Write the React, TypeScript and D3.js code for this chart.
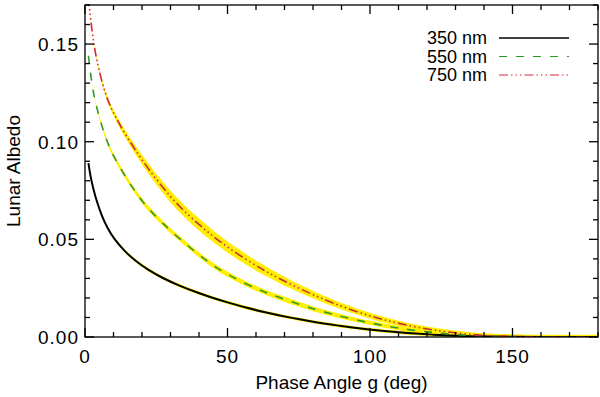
import React, { useEffect, useRef } from 'react';
import * as d3 from 'd3';

// phase angle samples (deg)
const phaseAngles = [1.2, 2, 3, 4, 6, 8, 10, 14, 18, 22, 27, 33, 40, 45, 50, 57, 63, 68, 75, 81, 87, 93, 100, 105, 110, 116, 122, 128, 135, 142, 150, 160, 170, 180];

const albedo350 = [0.089, 0.0815, 0.0755, 0.070, 0.0615, 0.0555, 0.0505, 0.0437, 0.0386, 0.0345, 0.0303, 0.0263, 0.0224, 0.0199, 0.0177, 0.0148, 0.0127, 0.0111, 0.0091, 0.0075, 0.0062, 0.0050, 0.0038, 0.0031, 0.0024, 0.0017, 0.0012, 0.0008, 0.0004, 0.0002, 0.0001, 0.00003, 0, 0];
const albedo550 = [0.144, 0.134, 0.1245, 0.118, 0.1075, 0.099, 0.0925, 0.0825, 0.0735, 0.066, 0.0585, 0.0505, 0.042, 0.0365, 0.032, 0.0268, 0.023, 0.0203, 0.0168, 0.014, 0.0116, 0.0094, 0.0072, 0.0058, 0.0045, 0.0033, 0.0023, 0.0015, 0.0008, 0.0004, 0.0001, 0.00002, 0, 0];
const albedo750 = [0.174, 0.162, 0.151, 0.1425, 0.130, 0.121, 0.1145, 0.104, 0.095, 0.0865, 0.077, 0.0668, 0.0575, 0.0515, 0.046, 0.0392, 0.034, 0.030, 0.025, 0.021, 0.0174, 0.0141, 0.0108, 0.0088, 0.007, 0.0051, 0.0036, 0.0024, 0.0013, 0.0006, 0.0002, 0.00005, 0.00001, 0];

// half-width of the yellow uncertainty band
const spread350 = [0, 0, 0, 0, 0.0002, 0.0003, 0.0004, 0.0005, 0.0005, 0.0005, 0.0005, 0.0005, 0.0005, 0.0005, 0.0005, 0.0005, 0.0005, 0.0005, 0.0005, 0.0005, 0.0005, 0.0005, 0.0005, 0.0005, 0.0005, 0.0005, 0.0005, 0.0005, 0.0005, 0.0005, 0.0005, 0.0005, 0.0005, 0.0005];
const spread550 = [0, 0, 0, 0.0003, 0.0005, 0.0007, 0.0008, 0.0009, 0.001, 0.001, 0.001, 0.001, 0.001, 0.001, 0.001, 0.001, 0.001, 0.001, 0.001, 0.0009, 0.0009, 0.0008, 0.0008, 0.0008, 0.0007, 0.0007, 0.0007, 0.0007, 0.0007, 0.0007, 0.0007, 0.0007, 0.0007, 0.0007];
const spread750 = [0, 0, 0, 0.0003, 0.0006, 0.0009, 0.0012, 0.0016, 0.002, 0.0023, 0.0026, 0.0028, 0.0028, 0.0027, 0.0026, 0.0024, 0.0022, 0.002, 0.0018, 0.0016, 0.0014, 0.0013, 0.0012, 0.0011, 0.001, 0.0009, 0.0009, 0.0008, 0.0008, 0.0008, 0.0008, 0.0008, 0.0008, 0.0008];

const seriesLabels = ['350 nm', '550 nm', '750 nm'];
const xTicks = [0, 50, 100, 150];
const yTicks = [0, 0.05, 0.1, 0.15];

const App = () => {
    const svgRef = useRef<SVGSVGElement>(null);

    useEffect(() => {
        const width = 600;
        const height = 397;
        const margin = { top: 5, right: 2, bottom: 60, left: 85 };
        const font = 'Liberation Sans, Arial, Helvetica, sans-serif';

        const svg = d3.select(svgRef.current)
            .attr('width', width)
            .attr('height', height);
        svg.selectAll('*').remove();

        const x = d3.scaleLinear().domain([0, 180]).range([margin.left, width - margin.right]);
        const y = d3.scaleLinear().domain([0, 0.17]).range([height - margin.bottom, margin.top]);

        svg.append('rect').attr('width', width).attr('height', height).attr('fill', '#fff');

        svg.append('clipPath').attr('id', 'plotclip')
            .append('rect')
            .attr('x', x(0)).attr('y', y(0.17))
            .attr('width', x(180) - x(0)).attr('height', y(0) - y(0.17));

        const plot = svg.append('g').attr('clip-path', 'url(#plotclip)');

        const series = [
            { values: albedo350, spread: spread350, color: '#000', dash: null, w: 2 },
            { values: albedo550, spread: spread550, color: '#2e9a2e', dash: '8,9', w: 1.6 },
            { values: albedo750, spread: spread750, color: '#d02a3a', dash: '9,3,1.5,3,1.5,3,1.5,3', w: 1.6 },
        ];

        const band = d3.area<number>()
            .x((_, i) => x(phaseAngles[i]))
            .curve(d3.curveBasis);

        series.forEach(s => {
            plot.append('path')
                .datum(s.values)
                .attr('fill', '#ffee00')
                .attr('d', band
                    .y0((d, i) => y(d - s.spread[i] - 0.0003))
                    .y1((d, i) => y(d + s.spread[i] + 0.0003)));
        });

        const line = d3.line<number>()
            .x((_, i) => x(phaseAngles[i]))
            .y(d => y(d))
            .curve(d3.curveBasis);

        series.forEach(s => {
            plot.append('path')
                .datum(s.values)
                .attr('fill', 'none')
                .attr('stroke', s.color)
                .attr('stroke-width', s.w)
                .attr('stroke-dasharray', s.dash)
                .attr('d', line);
        });

        // frame with ticks on all sides
        const axes = svg.append('g').attr('stroke', '#000').attr('stroke-width', 1.3);
        const x0 = x(0), x1 = x(180), y0 = y(0), y1 = y(0.17);
        axes.append('rect')
            .attr('x', x0).attr('y', y1)
            .attr('width', x1 - x0).attr('height', y0 - y1)
            .attr('fill', 'none');

        d3.range(0, 181, 10).forEach(t => {
            const len = t % 50 === 0 ? 9 : 5;
            axes.append('line').attr('x1', x(t)).attr('x2', x(t)).attr('y1', y0).attr('y2', y0 - len);
            axes.append('line').attr('x1', x(t)).attr('x2', x(t)).attr('y1', y1).attr('y2', y1 + len);
        });
        d3.range(0, 18).forEach(k => {
            const t = k * 0.01;
            const len = k % 5 === 0 ? 9 : 5;
            axes.append('line').attr('x1', x0).attr('x2', x0 + len).attr('y1', y(t)).attr('y2', y(t));
            axes.append('line').attr('x1', x1).attr('x2', x1 - len).attr('y1', y(t)).attr('y2', y(t));
        });

        svg.selectAll('.xtick')
            .data(xTicks)
            .enter()
            .append('text')
            .attr('x', d => x(d))
            .attr('y', y0 + 26)
            .attr('text-anchor', 'middle')
            .style('font-family', font)
            .style('font-size', '19px')
            .style('letter-spacing', '1px')
            .text(d => d3.format('d')(d));

        svg.selectAll('.ytick')
            .data(yTicks)
            .enter()
            .append('text')
            .attr('x', x0 - 6)
            .attr('y', d => y(d) + 7)
            .attr('text-anchor', 'end')
            .style('font-family', font)
            .style('font-size', '19px')
            .style('letter-spacing', '1px')
            .text(d => d3.format('.2f')(d));

        svg.append('text')
            .attr('x', (x0 + x1) / 2)
            .attr('y', 389)
            .attr('text-anchor', 'middle')
            .style('font-family', font)
            .style('font-size', '19px')
            .text('Phase Angle g (deg)');

        svg.append('text')
            .attr('transform', `translate(20,${(y0 + y1) / 2}) rotate(-90)`)
            .attr('text-anchor', 'middle')
            .style('font-family', font)
            .style('font-size', '19px')
            .text('Lunar Albedo');

        // legend
        const legend = svg.append('g');
        series.forEach((s, i) => {
            const ly = 38 + i * 18.5;
            legend.append('text')
                .attr('x', 487)
                .attr('y', ly + 6)
                .attr('text-anchor', 'end')
                .style('font-family', font)
                .style('font-size', '18px')
                .text(seriesLabels[i]);
            legend.append('line')
                .attr('x1', 499).attr('x2', 569)
                .attr('y1', ly).attr('y2', ly)
                .attr('stroke', s.color)
                .attr('stroke-width', s.w - 0.4)
                .attr('stroke-dasharray', s.dash);
        });
    }, []);

    return (
        <div style={{ position: 'absolute', left: 0, top: 0 }}>
            <svg ref={svgRef}></svg>
        </div>
    );
};

export default App;
